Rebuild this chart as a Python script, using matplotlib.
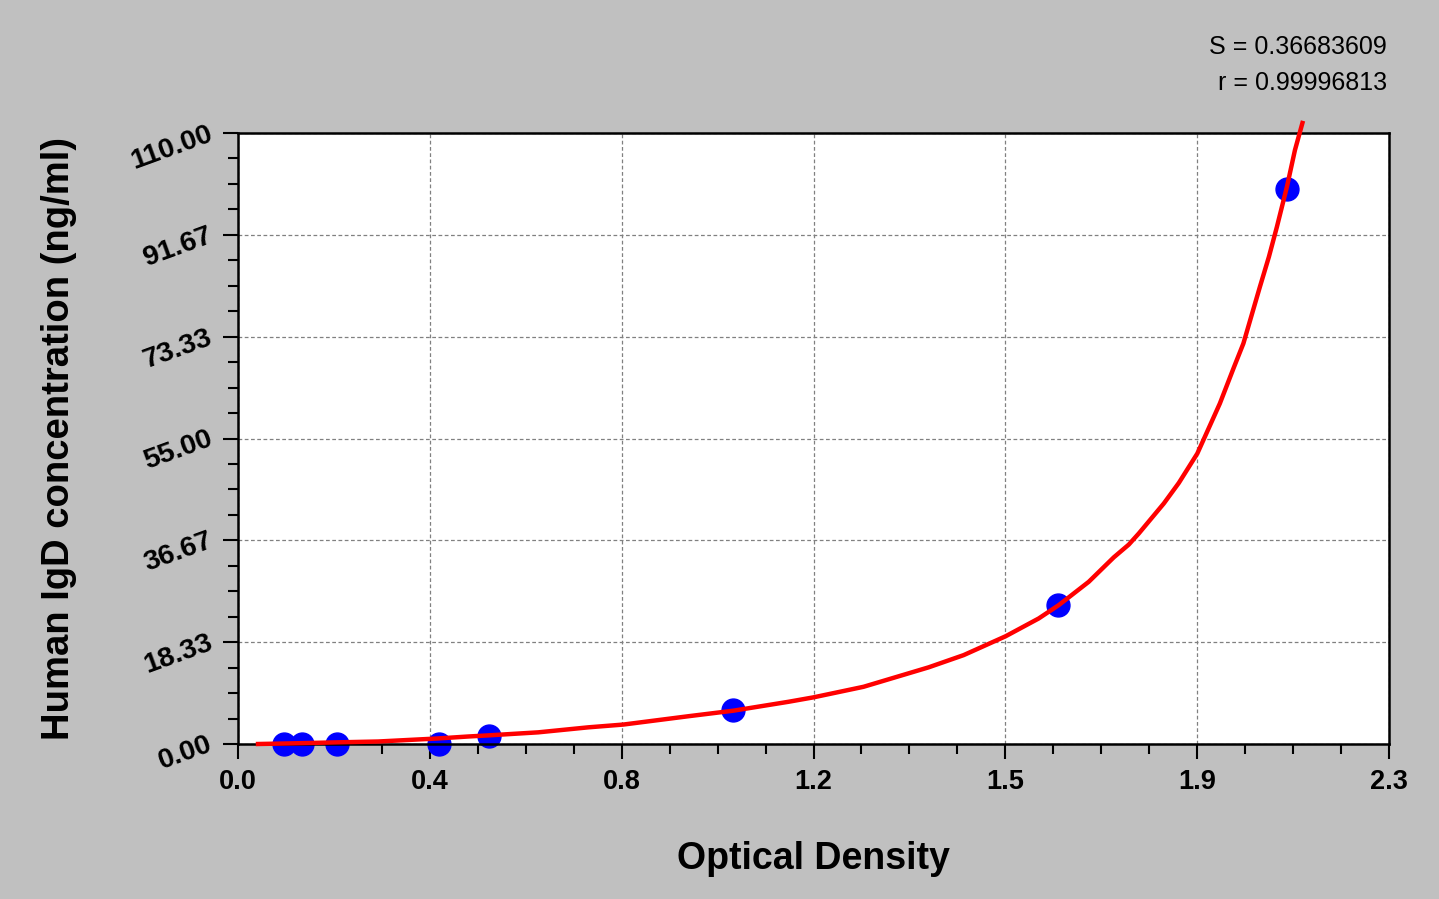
import numpy as np
import matplotlib
matplotlib.use('Agg')
import matplotlib.pyplot as plt
from matplotlib.ticker import FixedLocator, AutoMinorLocator

plt.rcParams['font.family'] = ['Liberation Sans', 'DejaVu Sans']

# standard points (OD, concentration)
od = [0.0925, 0.127, 0.197, 0.402, 0.502, 0.990, 1.638, 2.097]
conc = [0.0, 0.0, 0.0, 0.0, 1.5, 6.1, 25.0, 100.0]

# fitted curve
curve_x = [0.04, 0.10, 0.20, 0.28, 0.40, 0.46, 0.50, 0.60, 0.70, 0.77, 0.90, 0.99,
           1.10, 1.15, 1.25, 1.38, 1.45, 1.534, 1.60, 1.64, 1.70, 1.75, 1.78, 1.80,
           1.85, 1.88, 1.917, 1.962, 1.99, 2.009, 2.042, 2.06, 2.076, 2.096, 2.112, 2.127]
curve_y = [0.0, 0.1, 0.3, 0.45, 1.0, 1.35, 1.55, 2.1, 3.0, 3.5, 5.0, 6.0,
           7.6, 8.4, 10.3, 13.8, 16.0, 19.4, 22.6, 25.0, 29.2, 33.6, 35.9, 37.9,
           43.3, 47.0, 52.3, 61.3, 67.8, 72.1, 82.3, 87.7, 93.1, 100.3, 106.9, 111.8]

x_ticks = [0.0, 2.3 / 6, 2 * 2.3 / 6, 3 * 2.3 / 6, 4 * 2.3 / 6, 5 * 2.3 / 6, 2.3]
x_labels = ['0.0', '0.4', '0.8', '1.2', '1.5', '1.9', '2.3']
y_ticks = [0.0, 110 / 6, 2 * 110 / 6, 3 * 110 / 6, 4 * 110 / 6, 5 * 110 / 6, 110.0]
y_labels = ['0.00', '18.33', '36.67', '55.00', '73.33', '91.67', '110.00']

fig = plt.figure(figsize=(14.39, 8.99), dpi=100, facecolor='#c0c0c0')
ax = fig.add_axes([238 / 1439, 155 / 899, 1151 / 1439, 611 / 899])
ax.set_facecolor('white')

ax.plot(curve_x, curve_y, color='red', lw=3.2, clip_on=False, zorder=3)
ax.plot(od, conc, 'o', color='blue', ms=16.5, mec='blue', zorder=2, clip_on=False)

ax.set_xlim(0, 2.3)
ax.set_ylim(0, 110)
ax.xaxis.set_major_locator(FixedLocator(x_ticks))
ax.yaxis.set_major_locator(FixedLocator(y_ticks))
ax.set_xticklabels(x_labels, fontsize=19.5, fontweight='bold')
ax.set_yticklabels(y_labels, fontsize=20.5, fontweight='bold', rotation=20,
                   rotation_mode='anchor', ha='right', va='center')
ax.xaxis.set_minor_locator(AutoMinorLocator(4))
ax.yaxis.set_minor_locator(AutoMinorLocator(4))

ax.tick_params(which='major', direction='out', length=11, width=1.5, color='black')
ax.tick_params(which='minor', direction='out', length=7, width=1.5, color='black')
ax.tick_params(axis='x', which='major', pad=7)
ax.tick_params(axis='y', which='major', pad=8)
for s in ax.spines.values():
    s.set_linewidth(1.8)

ax.grid(True, which='major', color='#808080', linestyle=(0, (3, 2)), linewidth=0.9)
ax.set_axisbelow(True)

ax.set_xlabel('Optical Density', fontsize=27, fontweight='bold', labelpad=33)
ax.set_ylabel('Human IgD concentration (ng/ml)', fontsize=27.5, fontweight='bold', labelpad=36)

fig.text(1387 / 1439, 1 - 47 / 899, 'S = 0.36683609', fontsize=18, ha='right', va='center')
fig.text(1387 / 1439, 1 - 83 / 899, 'r = 0.99996813', fontsize=18, ha='right', va='center')

fig.savefig('out.png', dpi=100, facecolor=fig.get_facecolor())
